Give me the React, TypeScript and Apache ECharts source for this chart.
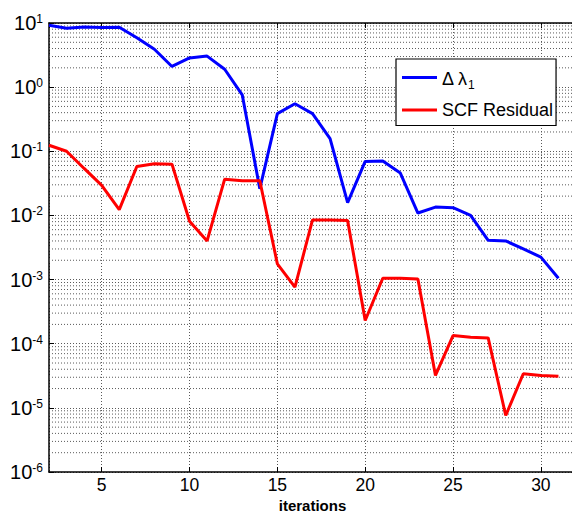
import React, { useEffect, useRef } from "react";
import * as echarts from "echarts";

const iterations = [2, 3, 4, 5, 6, 7, 8, 9, 10, 11, 12, 13, 14, 15, 16, 17, 18, 19, 20, 21, 22, 23, 24, 25, 26, 27, 28, 29, 30, 31];
const deltaLambda = [9.2, 8.3, 8.7, 8.5, 8.6, 5.9, 3.9, 2.1, 2.85, 3.05, 1.9, 0.76, 0.026, 0.386, 0.55, 0.386, 0.157, 0.0158, 0.0695, 0.0705, 0.0457, 0.0109, 0.0135, 0.0132, 0.01, 0.0041, 0.004, 0.003, 0.00224, 0.00105];
const scfResidual = [0.124, 0.1, 0.054, 0.0294, 0.0123, 0.058, 0.064, 0.063, 0.0081, 0.004, 0.0368, 0.0348, 0.0348, 0.00176, 0.00076, 0.0085, 0.0085, 0.0083, 0.00023, 0.00105, 0.00105, 0.00102, 3.2e-5, 1.34e-4, 1.26e-4, 1.23e-4, 7.6e-6, 3.4e-5, 3.2e-5, 3.1e-5];
const seriesNames = ["Δ λ1", "SCF Residual"];
const decadeExponents = [-6, -5, -4, -3, -2, -1, 0];
const minorMultipliers = [2, 3, 4, 5, 6, 7, 8, 9];
const xRange = [2, 32];

const FONT = "Liberation Sans, Arial, Helvetica, sans-serif";

export default function App() {
  const ref = useRef<HTMLDivElement>(null);
  useEffect(() => {
    if (!ref.current) return;
    const chart = echarts.init(ref.current, null, { renderer: "svg" });
    const minorValues: number[] = [];
    decadeExponents.forEach((e) => minorMultipliers.forEach((m) => minorValues.push(m * Math.pow(10, e))));
    const gridLine = { color: "#5a5a5a", width: 1, type: [1, 2] as number[] };
    const minorSeries = minorValues.map((v) => ({
      type: "line",
      data: [[xRange[0], v], [xRange[1], v]],
      symbol: "none",
      silent: true,
      lineStyle: gridLine,
      z: 1,
    }));
    chart.setOption({
      animation: false,
      backgroundColor: "#fff",
      grid: { left: 49, top: 23, width: 527, height: 449, containLabel: false, outerBoundsMode: "none" },
      legend: {
        orient: "vertical",
        left: 396,
        top: 59,
        padding: [10.5, 3, 6.5, 6],
        icon: "rect",
        itemWidth: 35,
        itemHeight: 3,
        itemGap: 10.5,
        borderColor: "#000",
        borderWidth: 1.2,
        backgroundColor: "#fff",
        data: seriesNames,
        formatter: (name: string) => (name === seriesNames[0] ? "{m|Δ λ}{sub|1}" : name),
        textStyle: {
          fontFamily: FONT,
          fontSize: 18,
          lineHeight: 18,
          color: "#000",
          rich: {
            m: { fontFamily: FONT, fontSize: 18, lineHeight: 16, color: "#000", verticalAlign: "top" },
            sub: { fontFamily: FONT, fontSize: 12, lineHeight: 12, color: "#000", verticalAlign: "top", padding: [9, 0, 0, 0] },
          },
        },
      },
      xAxis: [
        {
          type: "value",
          min: xRange[0],
          max: xRange[1],
          splitNumber: 6,
          name: "iterations",
          nameLocation: "middle",
          nameGap: 26,
          nameMoveOverlap: false,
          nameTextStyle: { fontFamily: FONT, fontSize: 15, fontWeight: "bold", color: "#000" },
          axisLine: { lineStyle: { color: "#000", width: 1.5 } },
          axisTick: { inside: true, length: 5, lineStyle: { color: "#000" } },
          axisLabel: { fontFamily: FONT, fontSize: 17.5, color: "#000", margin: 4, showMinLabel: false, showMaxLabel: false },
          splitLine: { show: true, lineStyle: gridLine },
        },
        {
          type: "value",
          position: "top",
          min: xRange[0],
          max: xRange[1],
          splitNumber: 6,
          axisLine: { show: true, lineStyle: { color: "#000", width: 1.5 } },
          axisTick: { show: true, inside: true, length: 5, lineStyle: { color: "#000" } },
          axisLabel: { show: false },
          splitLine: { show: false },
        },
      ],
      yAxis: {
        type: "log",
        logBase: 10,
        min: 1e-6,
        max: 10,
        axisLine: { show: true, lineStyle: { color: "#000", width: 1.5 } },
        axisTick: { show: true, inside: true, length: 5, lineStyle: { color: "#000" } },
        axisLabel: {
          margin: 6,
          formatter: (v: number) => {
            const e = Math.round(Math.log10(v));
            return "{b|10}{e|" + e + "}";
          },
          rich: {
            b: { fontFamily: FONT, fontSize: 20, lineHeight: 20, color: "#000", verticalAlign: "bottom" },
            e: { fontFamily: FONT, fontSize: 12, lineHeight: 12, color: "#000", verticalAlign: "top", padding: [0, 0, 13, 0] },
          },
        },
        splitLine: { show: true, lineStyle: gridLine },
      },
      series: [
        ...minorSeries,
        {
          name: seriesNames[0],
          type: "line",
          data: iterations.map((x, i) => [x, deltaLambda[i]]),
          symbol: "none",
          lineStyle: { color: "#0000ff", width: 3 },
          itemStyle: { color: "#0000ff" },
          z: 3,
        },
        {
          name: seriesNames[1],
          type: "line",
          data: iterations.map((x, i) => [x, scfResidual[i]]),
          symbol: "none",
          lineStyle: { color: "#ff0000", width: 3 },
          itemStyle: { color: "#ff0000" },
          z: 3,
        },
      ],
    });
    return () => chart.dispose();
  }, []);
  return <div ref={ref} style={{ position: "fixed", left: 0, top: 0, width: 572, height: 513 }} />;
}
